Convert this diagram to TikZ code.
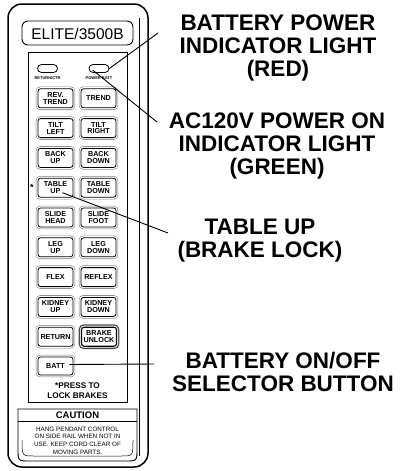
\documentclass[tikz,border=0pt]{standalone}
\usepackage{fontspec}
\setmainfont{Liberation Sans}
\usetikzlibrary{positioning, calc}
\definecolor{keyrim}{HTML}{808080}
\definecolor{keyshade}{HTML}{4A4A4A}
\tikzset{
  callout/.style={font=\fontsize{22.5}{23}\selectfont\bfseries, align=center, inner sep=0pt},
  leader/.style={line width=0.9pt},
  keybase/.style={
    draw, fill=white, rounded corners=2.5pt,
    minimum width=35pt, minimum height=19pt, inner sep=0pt,
    align=center, font=\fontsize{7.2}{6.9}\selectfont\bfseries
  },
  padkey/.style={
    keybase, line width=0.8pt,
    preaction={draw=keyrim, line width=4.4pt},
    preaction={draw=white, line width=3.2pt}
  },
  brakekey/.style={
    keybase, line width=1.1pt,
    preaction={draw=keyshade, line width=5.6pt},
    preaction={draw=white, line width=3pt}
  },
  lamp/.style={draw, line width=0.8pt, rounded corners=4pt,
    minimum width=20pt, minimum height=8pt, inner sep=0pt},
  lamptag/.style={font=\fontsize{4}{4}\selectfont\bfseries, inner sep=0pt}
}

\begin{document}
\begin{tikzpicture}[x=1pt, y=-1pt]
  \useasboundingbox (0,0) rectangle (404,471);

  % pendant body
  \draw[line width=1.5pt, rounded corners=14pt] (8,4) rectangle (148,467);
  \draw[line width=0.9pt] (139,18) -- (139,456);
  \draw[line width=0.9pt, rounded corners=6pt] (22,21) rectangle (133,45);
  \node[font=\fontsize{15.5}{15.5}\selectfont] (model) at (77.5,34) {ELITE/3500B};
  \draw[line width=0.9pt] (28,52) rectangle (127,402);

  % indicator lights
  \node[lamp] (ctrlamp) at (47.5,68.5) {};
  \node[lamp] (battlamp) at (99,68.5) {};
  \node[lamptag, below=3.2pt of ctrlamp] (ctrtag) {RETURN/CTR};
  \node[lamptag, below=3.2pt of battlamp] (batttag) {POWER BATT};

  % key pairs
  \foreach \ltxt/\rtxt [count=\i] in {{REV.\\TREND}/TREND, {TILT\\LEFT}/{TILT\\RIGHT},
      {BACK\\UP}/{BACK\\DOWN}, {TABLE\\UP}/{TABLE\\DOWN}, {SLIDE\\HEAD}/{SLIDE\\FOOT},
      {LEG\\UP}/{LEG\\DOWN}, FLEX/REFLEX, {KIDNEY\\UP}/{KIDNEY\\DOWN}} {
    \node[padkey] (l\i) at (55.5,{68.5+29.8*\i}) {\ltxt};
    \node[padkey] (r\i) at (98.5,{68.5+29.8*\i}) {\rtxt};
  }
  \node[padkey] (return) at (55.5,336.7) {RETURN};
  \node[brakekey] (brake) at (99,336.7) {BRAKE\\UNLOCK};
  \node[padkey, minimum height=18pt] (batt) at (55.5,366) {BATT};
  \node[font=\fontsize{9}{9}\selectfont\bfseries, inner sep=0pt] (star) at (32,187) {*};

  \node[font=\fontsize{8.2}{10.5}\selectfont\bfseries, align=center] (presstip)
    at (77.5,390.5) {*PRESS TO\\LOCK BRAKES};

  % caution label
  \draw[line width=0.9pt] (18,409) -- (137,409) -- (137,449)
    .. controls (137,461) .. (125,461) -- (30,461)
    .. controls (18,461) .. (18,449) -- cycle;
  \draw[line width=0.5pt] (22,440) .. controls (22,456) .. (34,456) -- (121,456)
    .. controls (133,456) .. (133,440);
  \draw[line width=0.8pt] (18,421) -- (137,421);
  \node[font=\fontsize{9.5}{9.5}\selectfont\bfseries] (cautionhead) at (77.5,415) {CAUTION};
  \node[font=\fontsize{6.3}{7.7}\selectfont, align=center, inner sep=0pt] (cautiontext)
    at (77.5,440.5) {HANG PENDANT CONTROL\\ON SIDE RAIL WHEN NOT IN\\USE. KEEP CORD CLEAR OF\\MOVING PARTS.};

  % callouts
  \node[callout] (battlbl) at (278,48) {BATTERY POWER\\INDICATOR LIGHT\\(RED)};
  \node[callout] (aclbl) at (277,146) {AC120V POWER ON\\INDICATOR LIGHT\\(GREEN)};
  \node[callout] (tablelbl) at (260,240.5) {TABLE UP\\(BRAKE LOCK)};
  \node[callout] (battsellbl) at (283,371.5) {BATTERY ON/OFF\\SELECTOR BUTTON};

  \coordinate (battend) at (158,33);
  \coordinate (acend) at (157,122);
  \coordinate (tableend) at (168,233);
  \coordinate (selend) at (154,364);
  \draw[leader] (battend) -- (battlamp.east);
  \draw[leader] (acend) -- ($(battlamp.west)+(4,1.5)$);
  \draw[leader] (tableend) -- ($(l4.center)+(7,5)$);
  \draw[leader] (selend) -- ($(batt.east)+(-4,-1.5)$);
\end{tikzpicture}
\end{document}
